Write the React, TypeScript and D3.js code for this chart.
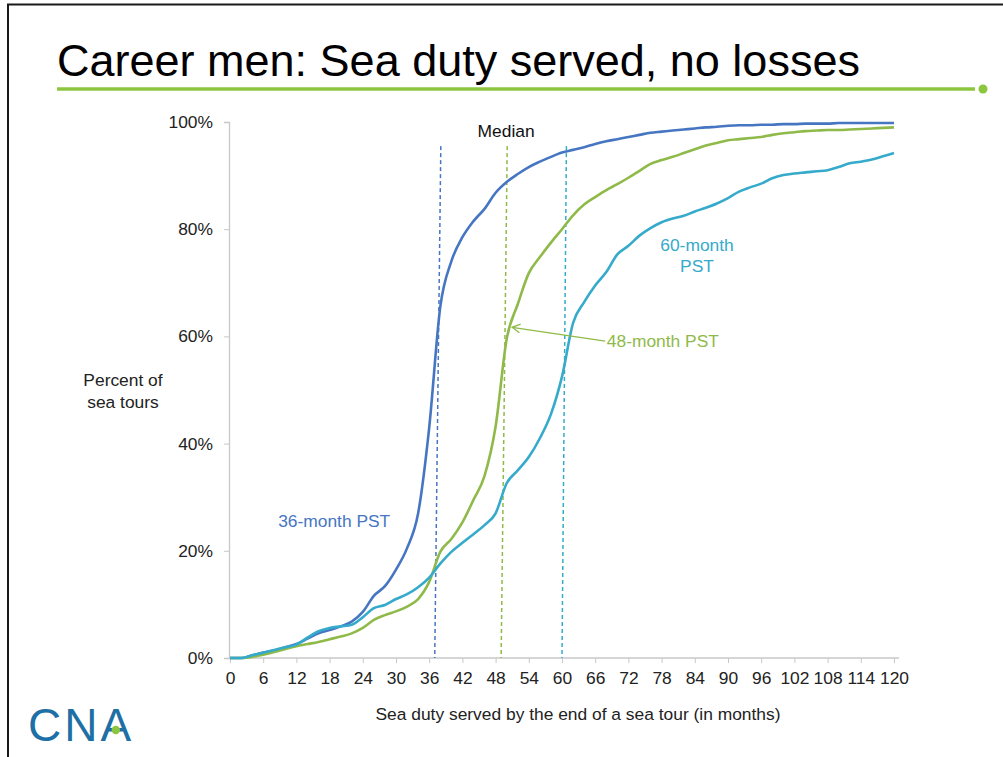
import { useEffect, useRef } from "react";
import * as d3 from "d3";

// months on the x axis (sea duty served)
const months = [
  0, 2, 4, 6, 8, 10, 12, 14, 16, 18,
  20, 22, 24, 26, 28, 30, 32, 34, 36, 38,
  40, 42, 44, 46, 48, 50, 52, 54, 56, 58,
  60, 62, 64, 66, 68, 70, 72, 74, 76, 78,
  80, 82, 84, 86, 88, 90, 92, 94, 96, 98,
  100, 102, 104, 106, 108, 110, 112, 114, 116, 118,
  120,
];

// cumulative percent of sea tours
const pst36 = [
  0, 0, 0.5, 1.0, 1.4, 2.0, 2.6, 3.6, 4.6, 5.2,
  5.9, 6.8, 8.6, 11.6, 13.4, 16.5, 20.5, 27.0, 43.0, 65.5,
  74.0, 78.5, 81.5, 83.8, 86.8, 88.8, 90.3, 91.6, 92.6, 93.5,
  94.3, 94.8, 95.3, 95.9, 96.4, 96.8, 97.2, 97.6, 98.0, 98.2,
  98.4, 98.6, 98.8, 99.0, 99.1, 99.3, 99.4, 99.4, 99.5, 99.5,
  99.6, 99.6, 99.7, 99.7, 99.7, 99.8, 99.8, 99.8, 99.8, 99.8,
  99.8,
];
const pst48 = [
  0, 0, 0.2, 0.6, 1.1, 1.7, 2.2, 2.6, 3.0, 3.5,
  4.0, 4.6, 5.6, 7.1, 8.0, 8.7, 9.6, 11.0, 14.2, 19.8,
  22.2, 25.3, 29.5, 34.0, 43.2, 59.5, 66.0, 71.8, 74.8, 77.5,
  80.0, 82.6, 84.6, 86.0, 87.3, 88.4, 89.6, 90.9, 92.2, 92.9,
  93.5, 94.2, 94.9, 95.6, 96.1, 96.6, 96.8, 97.0, 97.2, 97.6,
  97.9, 98.1, 98.3, 98.4, 98.5, 98.5, 98.6, 98.7, 98.8, 98.9,
  99.0,
];
const pst60 = [
  0, 0, 0.5, 1.0, 1.5, 2.0, 2.5, 3.8, 5.0, 5.6,
  5.9, 6.2, 7.6, 9.3, 9.9, 11.0, 11.9, 13.2, 15.0, 17.6,
  19.8, 21.5, 23.1, 24.8, 27.0, 32.6, 35.0, 37.5, 41.0, 45.5,
  52.5, 62.5, 66.4, 69.5, 72.0, 75.3, 76.9, 78.8, 80.2, 81.3,
  82.0, 82.5, 83.3, 84.0, 84.8, 85.8, 87.0, 87.8, 88.5, 89.5,
  90.1, 90.4, 90.6, 90.8, 91.0, 91.6, 92.3, 92.6, 93.0, 93.6,
  94.2,
];

const xTicks = [0, 6, 12, 18, 24, 30, 36, 42, 48, 54, 60, 66, 72, 78, 84, 90, 96, 102, 108, 114, 120];
const yTicks = [0, 20, 40, 60, 80, 100];

// median markers (dashed lines are drawn slightly slanted in the original)
const medianTop = [38.1, 50.1, 60.8];
const medianBottom = [37.0, 49.0, 60.0];

const seriesNames = ["36-month PST", "48-month PST", "60-month PST"];
const seriesValues = [pst36, pst48, pst60];
const colors = ["#4676c2", "#8fba4a", "#35aacb"];

const FONT = "'Liberation Sans', Arial, sans-serif";
const FS = 17.4;

const App = () => {
  const svgRef = useRef<SVGSVGElement>(null);

  useEffect(() => {
    const width = 1003;
    const height = 757;

    const x = d3.scaleLinear().domain([0, 120]).range([230, 894]);
    const y = d3.scaleLinear().domain([0, 100]).range([658, 122]);

    const svg = d3.select(svgRef.current)
      .attr("width", width)
      .attr("height", height)
      .attr("viewBox", [0, 0, width, height].join(" "))
      .style("font-family", FONT);

    svg.selectAll("*").remove();

    // slide frame
    svg.append("rect").attr("width", width).attr("height", height).attr("fill", "#fff");
    svg.append("line").attr("x1", 7).attr("x2", width).attr("y1", 4.5).attr("y2", 4.5)
      .attr("stroke", "#1a1a1a").attr("stroke-width", 2);
    svg.append("line").attr("x1", 8).attr("x2", 8).attr("y1", 4).attr("y2", height)
      .attr("stroke", "#1a1a1a").attr("stroke-width", 2);

    // title + rule
    svg.append("text").attr("x", 57).attr("y", 76)
      .attr("font-size", 45).attr("fill", "#000")
      .text("Career men: Sea duty served, no losses");
    svg.append("line").attr("x1", 57).attr("x2", 975).attr("y1", 89).attr("y2", 89)
      .attr("stroke", "#8cc63f").attr("stroke-width", 3.5);
    svg.append("circle").attr("cx", 983).attr("cy", 89).attr("r", 4.5).attr("fill", "#8cc63f");

    // y axis
    const yAxis = svg.append("g")
      .attr("transform", `translate(${x(0) - 1},0)`)
      .call(d3.axisLeft(y).tickValues(yTicks).tickSize(5).tickPadding(11).tickFormat((d) => `${d}%`));
    yAxis.select(".domain").attr("stroke", "#c8c8c8").attr("stroke-width", 1.3);
    yAxis.selectAll(".tick line").attr("stroke", "#c8c8c8");
    yAxis.selectAll(".tick text").attr("font-size", FS).attr("fill", "#222").attr("font-family", FONT);

    // x axis
    const xAxis = svg.append("g")
      .attr("transform", `translate(0,${y(0)})`)
      .call(d3.axisBottom(x).tickValues(xTicks).tickSize(5).tickPadding(9).tickSizeOuter(0));
    xAxis.select(".domain").attr("stroke", "#c8c8c8").attr("stroke-width", 1.3)
      .attr("d", `M${x(0) - 1},0H${x(120) + 5}`);
    xAxis.selectAll(".tick line").attr("stroke", "#c8c8c8");
    xAxis.selectAll(".tick text").attr("font-size", FS).attr("fill", "#222").attr("font-family", FONT);

    // axis titles
    svg.append("text").attr("x", 123).attr("y", 386).attr("text-anchor", "middle")
      .attr("font-size", FS).attr("fill", "#222").text("Percent of");
    svg.append("text").attr("x", 123).attr("y", 408).attr("text-anchor", "middle")
      .attr("font-size", FS).attr("fill", "#222").text("sea tours");
    svg.append("text").attr("x", 578).attr("y", 720).attr("text-anchor", "middle")
      .attr("font-size", FS).attr("fill", "#222")
      .text("Sea duty served by the end of a sea tour (in months)");

    // median dashed lines
    svg.append("g").selectAll("line").data(medianTop).join("line")
      .attr("x1", (d) => x(d)).attr("y1", y(95.5))
      .attr("x2", (_, i) => x(medianBottom[i])).attr("y2", y(0))
      .attr("stroke", (_, i) => colors[i])
      .attr("stroke-width", 1.5).attr("stroke-dasharray", "4 3");
    svg.append("text").attr("x", x(49.9)).attr("y", y(98.3) + 6).attr("text-anchor", "middle")
      .attr("font-size", FS).attr("fill", "#111").text("Median");

    // curves
    const line = d3.line<number>()
      .x((_, i) => x(months[i]))
      .y((d) => y(d))
      .curve(d3.curveMonotoneX);

    svg.append("g").selectAll("path").data(seriesValues).join("path")
      .attr("d", (d) => line(d))
      .attr("fill", "none")
      .attr("stroke", (_, i) => colors[i])
      .attr("stroke-width", 2.6)
      .attr("stroke-linejoin", "round");

    // series labels
    svg.append("text").attr("x", x(8.7)).attr("y", y(25.6) + 6)
      .attr("font-size", FS).attr("fill", colors[0]).text(seriesNames[0]);

    svg.append("text").attr("x", x(68.1)).attr("y", y(59.1) + 6)
      .attr("font-size", FS).attr("fill", colors[1]).text(seriesNames[1]);
    // arrow pointing at the 48-month curve
    const ax1 = x(67.8), ay1 = y(59.1), ax2 = x(51.0), ay2 = y(61.7);
    const ang = Math.atan2(ay1 - ay2, ax1 - ax2);
    svg.append("line").attr("x1", ax1).attr("y1", ay1).attr("x2", ax2).attr("y2", ay2)
      .attr("stroke", colors[1]).attr("stroke-width", 1.3);
    svg.append("path")
      .attr("d", `M${ax2 + 9 * Math.cos(ang - 0.5)},${ay2 + 9 * Math.sin(ang - 0.5)}L${ax2},${ay2}L${ax2 + 9 * Math.cos(ang + 0.5)},${ay2 + 9 * Math.sin(ang + 0.5)}`)
      .attr("fill", "none").attr("stroke", colors[1]).attr("stroke-width", 1.3);

    const [l60a, l60b] = ["60-month", "PST"];
    svg.append("text").attr("x", x(84.4)).attr("y", y(77.0) + 6).attr("text-anchor", "middle")
      .attr("font-size", FS).attr("fill", colors[2]).text(l60a);
    svg.append("text").attr("x", x(84.4)).attr("y", y(73.1) + 6).attr("text-anchor", "middle")
      .attr("font-size", FS).attr("fill", colors[2]).text(l60b);

    // CNA logo
    const logo = svg.append("text").attr("x", 28).attr("y", 741)
      .attr("font-size", 46).attr("fill", "#1d6fa5").attr("letter-spacing", 3)
      .text("CNA");
    const node = logo.node() as SVGTextElement;
    let dotX = 114;
    try {
      const ext = node.getExtentOfChar(2);
      dotX = ext.x + (ext.width - 3) / 2;
    } catch (e) {
      // keep default
    }
    svg.append("circle").attr("cx", dotX).attr("cy", 730).attr("r", 4.2).attr("fill", "#8cc63f");

    return () => {
      svg.selectAll("*").remove();
    };
  }, []);

  return (
    <div style={{ position: "absolute", left: 0, top: 0 }}>
      <svg ref={svgRef} style={{ display: "block" }}></svg>
    </div>
  );
};

export default App;
